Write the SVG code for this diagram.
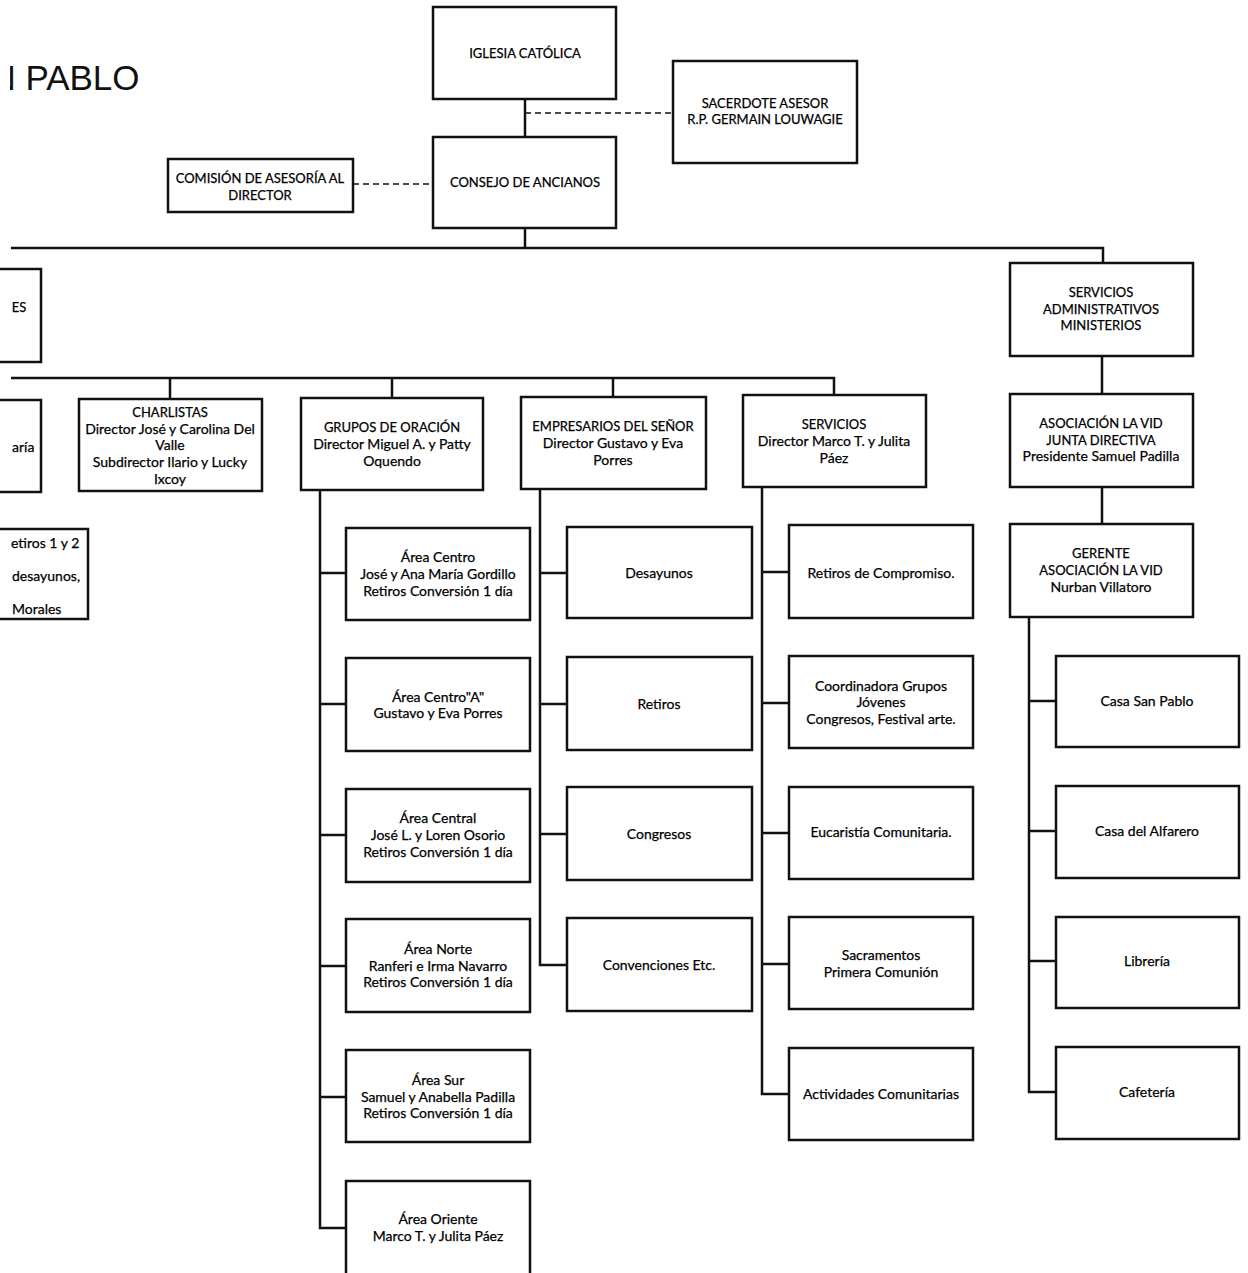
<svg xmlns="http://www.w3.org/2000/svg" width="1248" height="1273" viewBox="0 0 1248 1273">
<defs>
<clipPath id="scanEdge"><rect x="10" y="0" width="300" height="130"/></clipPath>
</defs>
<style>
.box{fill:#fff;stroke:#111;stroke-width:2.5}
.t,.tc,.ts{font-family:Lato,"Liberation Sans",sans-serif;fill:#000;stroke:#000;stroke-width:0.25}
.t{font-size:14px;text-anchor:middle}
.tc{font-size:13px;text-anchor:middle}
.ts{font-size:14px;text-anchor:start}
.ln{fill:none;stroke:#111;stroke-width:2.5}
.dash{fill:none;stroke:#111;stroke-width:1.5;stroke-dasharray:6 4}
</style>
<rect width="1248" height="1273" fill="#fff"/>
<text x="-9.6" y="90" clip-path="url(#scanEdge)" font-family="'Liberation Sans',Arial,sans-serif" font-size="35" fill="#111">N PABLO</text>
<g id="connectors">
<path class="ln" d="M525,99V137M525,228V248M11,248H1103V263M11,378H834V395M170,378V399M392,378V398M613,378V397M1102,356V394M1102,487V524"/>
<path class="dash" d="M525,113H673M353,184H433"/>
<path class="ln" d="M320,490V1228H346M320,573H346M320,704H346M320,835H346M320,966H346M320,1097H346"/>
<path class="ln" d="M540,489V965H567M540,573H567M540,704H567M540,834H567"/>
<path class="ln" d="M762,487V1094H789M762,572H789M762,703H789M762,833H789M762,964H789"/>
<path class="ln" d="M1029,617V1092H1056M1029,701H1056M1029,831H1056M1029,961H1056"/>
</g>
<g id="iglesia"><rect class="box" x="433" y="7" width="183" height="92"/><text class="tc" x="525" y="57.5">IGLESIA CATÓLICA</text></g>
<g id="sacerdote"><rect class="box" x="673" y="61" width="184" height="102"/><text class="tc" x="765" y="107.5">SACERDOTE ASESOR</text><text class="tc" x="765" y="123.5">R.P. GERMAIN LOUWAGIE</text></g>
<g id="consejo"><rect class="box" x="433" y="137" width="183" height="91"/><text class="tc" x="525" y="186.5">CONSEJO DE ANCIANOS</text></g>
<g id="comision"><rect class="box" x="168" y="159" width="185" height="53"/><text class="tc" x="260" y="182.5">COMISIÓN DE ASESORÍA AL</text><text class="tc" x="260" y="199.5">DIRECTOR</text></g>
<g id="es"><rect class="box" x="-150" y="269" width="191" height="93"/><text class="tc" x="19" y="311.5">ES</text></g>
<g id="servadmin"><rect class="box" x="1010" y="263" width="183" height="93"/><text class="tc" x="1101" y="296.5">SERVICIOS</text><text class="tc" x="1101" y="313.5">ADMINISTRATIVOS</text><text class="tc" x="1101" y="329.5">MINISTERIOS</text></g>
<g id="aria"><rect class="box" x="-150" y="400" width="191" height="92"/><text class="ts" x="12" y="452">aría</text></g>
<g id="charlistas"><rect class="box" x="79" y="399" width="183" height="92"/><text class="tc" x="170" y="416.5">CHARLISTAS</text><text class="t" x="170" y="434">Director José y Carolina Del</text><text class="t" x="170" y="450">Valle</text><text class="t" x="170" y="467">Subdirector Ilario y Lucky</text><text class="t" x="170" y="484">Ixcoy</text></g>
<g id="retiros12"><rect class="box" x="-150" y="529" width="238" height="90"/><text class="ts" x="11" y="548">etiros 1 y 2</text><text class="ts" x="12" y="581">desayunos,</text><text class="ts" x="12" y="614">Morales</text></g>
<g id="grupos"><rect class="box" x="301" y="398" width="182" height="92"/><text class="tc" x="392" y="431.5">GRUPOS DE ORACIÓN</text><text class="t" x="392" y="449">Director Miguel A. y Patty</text><text class="t" x="392" y="466">Oquendo</text></g>
<g id="empresarios"><rect class="box" x="521" y="397" width="185" height="92"/><text class="tc" x="613" y="430.5">EMPRESARIOS DEL SEÑOR</text><text class="t" x="613" y="448">Director Gustavo y Eva</text><text class="t" x="613" y="465">Porres</text></g>
<g id="servicios"><rect class="box" x="743" y="395" width="183" height="92"/><text class="tc" x="834" y="428.5">SERVICIOS</text><text class="t" x="834" y="446">Director Marco T. y Julita</text><text class="t" x="834" y="463">Páez</text></g>
<g id="asociacion"><rect class="box" x="1010" y="394" width="183" height="93"/><text class="tc" x="1101" y="427.5">ASOCIACIÓN LA VID</text><text class="tc" x="1101" y="444.5">JUNTA DIRECTIVA</text><text class="t" x="1101" y="461">Presidente Samuel Padilla</text></g>
<g id="gerente"><rect class="box" x="1010" y="524" width="183" height="93"/><text class="tc" x="1101" y="557.5">GERENTE</text><text class="tc" x="1101" y="574.5">ASOCIACIÓN LA VID</text><text class="t" x="1101" y="592">Nurban Villatoro</text></g>
<g id="area-centro"><rect class="box" x="346" y="528" width="184" height="92"/><text class="t" x="438" y="562">Área Centro</text><text class="t" x="438" y="579">José y Ana María Gordillo</text><text class="t" x="438" y="596">Retiros Conversión 1 día</text></g>
<g id="area-centro-a"><rect class="box" x="346" y="658" width="184" height="93"/><text class="t" x="438" y="702">Área Centro"A"</text><text class="t" x="438" y="718">Gustavo y Eva Porres</text></g>
<g id="area-central"><rect class="box" x="346" y="789" width="184" height="93"/><text class="t" x="438" y="823">Área Central</text><text class="t" x="438" y="840">José L. y Loren Osorio</text><text class="t" x="438" y="857">Retiros Conversión 1 día</text></g>
<g id="area-norte"><rect class="box" x="346" y="919" width="184" height="93"/><text class="t" x="438" y="954">Área Norte</text><text class="t" x="438" y="971">Ranferi e Irma Navarro</text><text class="t" x="438" y="987">Retiros Conversión 1 día</text></g>
<g id="area-sur"><rect class="box" x="346" y="1050" width="184" height="92"/><text class="t" x="438" y="1085">Área Sur</text><text class="t" x="438" y="1102">Samuel y Anabella Padilla</text><text class="t" x="438" y="1118">Retiros Conversión 1 día</text></g>
<g id="area-oriente"><rect class="box" x="346" y="1181" width="184" height="94"/><text class="t" x="438" y="1224">Área Oriente</text><text class="t" x="438" y="1241">Marco T. y Julita Páez</text></g>
<g id="desayunos"><rect class="box" x="567" y="527" width="185" height="91"/><text class="t" x="659" y="578">Desayunos</text></g>
<g id="retiros"><rect class="box" x="567" y="657" width="185" height="93"/><text class="t" x="659" y="709">Retiros</text></g>
<g id="congresos"><rect class="box" x="567" y="787" width="185" height="93"/><text class="t" x="659" y="839">Congresos</text></g>
<g id="convenciones"><rect class="box" x="567" y="918" width="185" height="93"/><text class="t" x="659" y="970">Convenciones Etc.</text></g>
<g id="retiros-compromiso"><rect class="box" x="789" y="525" width="184" height="93"/><text class="t" x="881" y="578">Retiros de Compromiso.</text></g>
<g id="coordinadora"><rect class="box" x="789" y="656" width="184" height="92"/><text class="t" x="881" y="691">Coordinadora Grupos</text><text class="t" x="881" y="707">Jóvenes</text><text class="t" x="881" y="724">Congresos, Festival arte.</text></g>
<g id="eucaristia"><rect class="box" x="789" y="787" width="184" height="92"/><text class="t" x="881" y="837">Eucaristía Comunitaria.</text></g>
<g id="sacramentos"><rect class="box" x="789" y="917" width="184" height="92"/><text class="t" x="881" y="960">Sacramentos</text><text class="t" x="881" y="977">Primera Comunión</text></g>
<g id="actividades"><rect class="box" x="789" y="1048" width="184" height="92"/><text class="t" x="881" y="1099">Actividades Comunitarias</text></g>
<g id="casa-san-pablo"><rect class="box" x="1056" y="656" width="183" height="91"/><text class="t" x="1147" y="706">Casa San Pablo</text></g>
<g id="casa-alfarero"><rect class="box" x="1056" y="786" width="183" height="92"/><text class="t" x="1147" y="836">Casa del Alfarero</text></g>
<g id="libreria"><rect class="box" x="1056" y="917" width="183" height="91"/><text class="t" x="1147" y="966">Librería</text></g>
<g id="cafeteria"><rect class="box" x="1056" y="1047" width="183" height="92"/><text class="t" x="1147" y="1097">Cafetería</text></g>
</svg>
